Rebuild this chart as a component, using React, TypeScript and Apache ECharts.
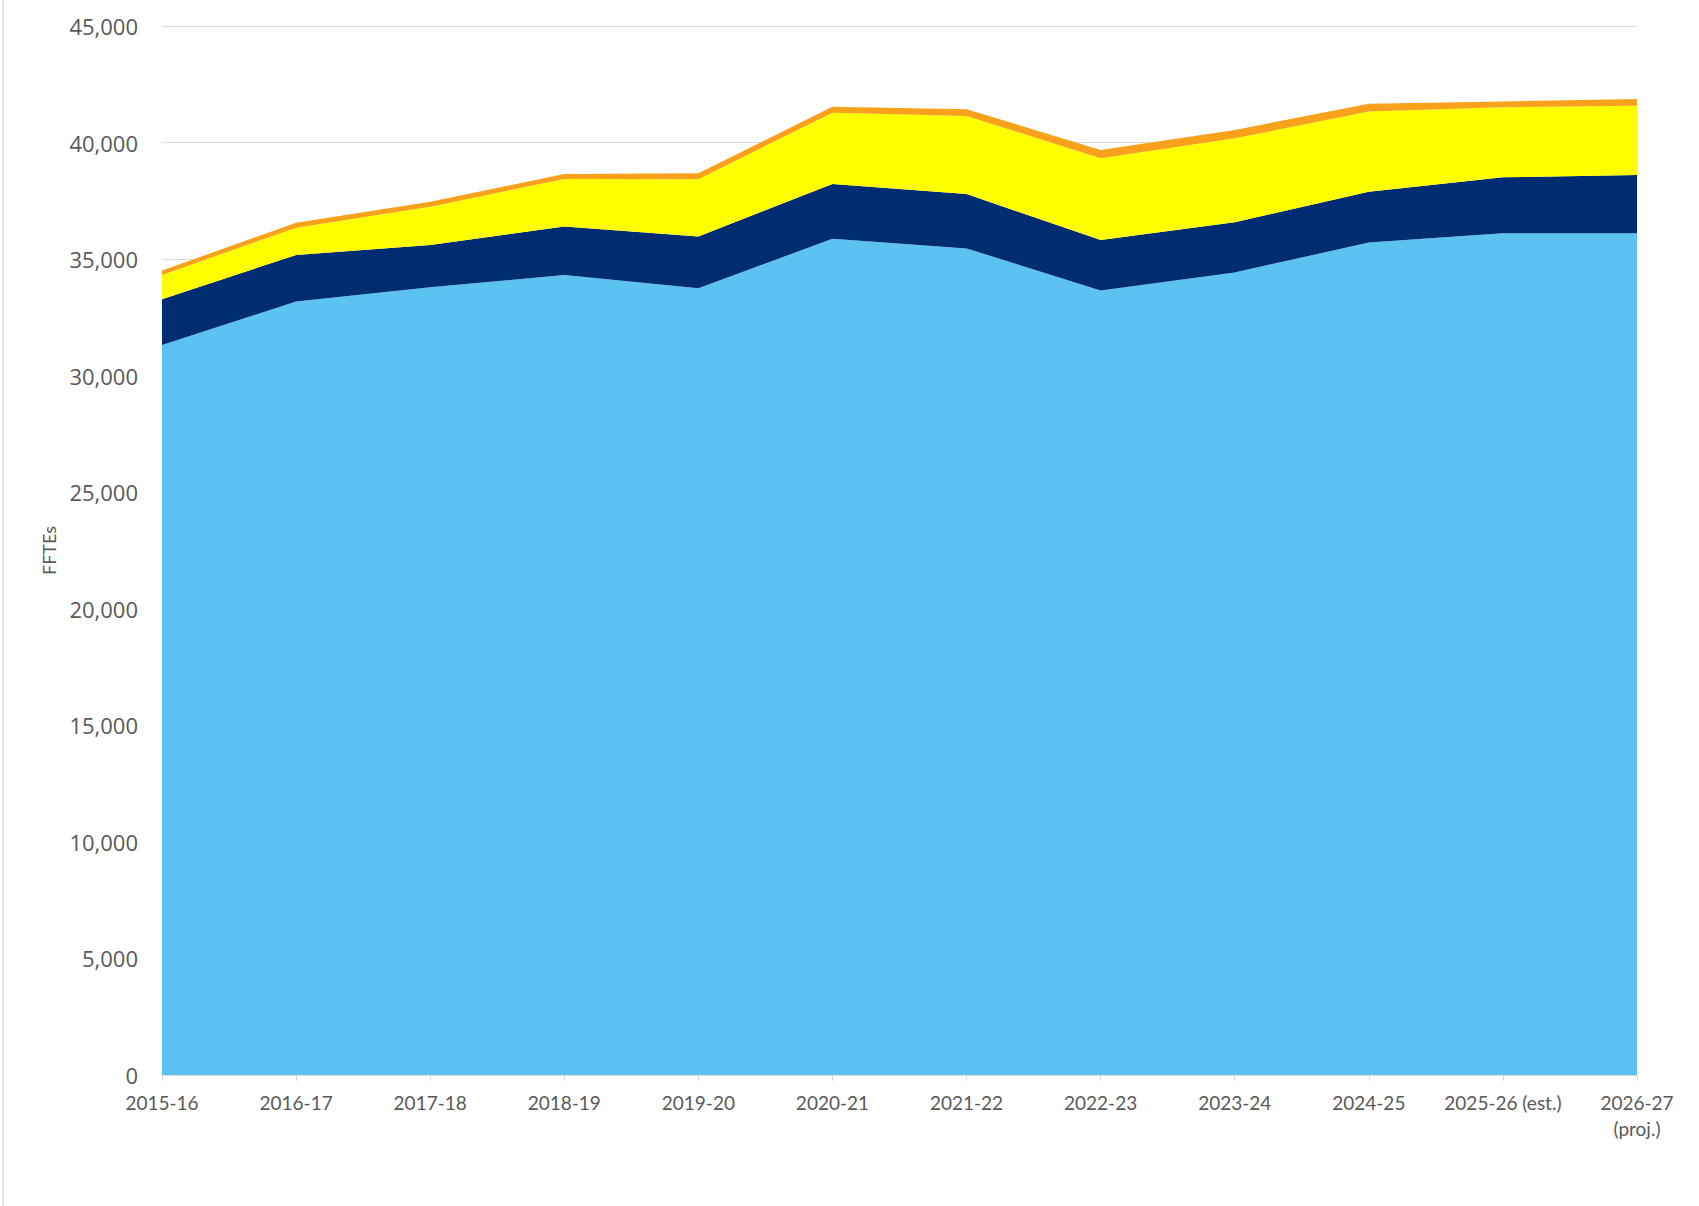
import React, { useEffect, useRef } from "react";
import * as echarts from "echarts";

const categories = [
  "2015-16",
  "2016-17",
  "2017-18",
  "2018-19",
  "2019-20",
  "2020-21",
  "2021-22",
  "2022-23",
  "2023-24",
  "2024-25",
  "2025-26 (est.)",
  "2026-27\n(proj.)",
];

// Stacked components (FFTEs), bottom to top
const seriesLightBlue = [31320, 33180, 33790, 34320, 33750, 35870, 35460, 33650, 34430, 35710, 36110, 36110];
const seriesNavy = [1960, 2000, 1820, 2080, 2220, 2350, 2330, 2170, 2150, 2180, 2400, 2500];
const seriesYellow = [1040, 1170, 1640, 2040, 2460, 3060, 3350, 3510, 3600, 3440, 3000, 2970];
const seriesOrange = [190, 210, 210, 210, 250, 260, 290, 350, 360, 330, 250, 290];

const yTicks = { min: 0, max: 45000, interval: 5000 };

export default function App() {
  const ref = useRef<HTMLDivElement>(null);

  useEffect(() => {
    if (!ref.current) return;
    const chart = echarts.init(ref.current, undefined, { renderer: "svg" });

    const mk = (name: string, data: number[], color: string) => ({
      name,
      type: "line",
      stack: "total",
      data,
      showSymbol: false,
      symbol: "none",
      lineStyle: { width: 0, opacity: 0 },
      areaStyle: { color, opacity: 1 },
      itemStyle: { color },
      emphasis: { disabled: true },
    });

    chart.setOption({
      animation: false,
      backgroundColor: "#ffffff",
      grid: {
        left: 162,
        right: 62,
        top: 26,
        bottom: 131,
        containLabel: false,
        outerBoundsMode: "none",
      },
      xAxis: {
        type: "category",
        data: categories,
        boundaryGap: false,
        axisLine: { show: true, lineStyle: { color: "#d9d9d9", width: 1 } },
        axisTick: { show: true, length: 6, lineStyle: { color: "#d9d9d9" } },
        axisLabel: {
          interval: 0,
          fontFamily: "Lato",
          fontSize: 19,
          lineHeight: 26,
          color: "#595959",
          margin: 14,
        },
        splitLine: { show: false },
        z: 10,
      },
      yAxis: {
        type: "value",
        min: yTicks.min,
        max: yTicks.max,
        interval: yTicks.interval,
        name: "FFTEs",
        nameLocation: "middle",
        nameGap: 104,
        nameTextStyle: { fontFamily: "Lato", fontSize: 18, color: "#595959" },
        axisLine: { show: false },
        axisTick: { show: false },
        axisLabel: {
          fontFamily: "Open Sans",
          fontSize: 22,
          color: "#595959",
          margin: 24,
          formatter: (v: number) => v.toLocaleString("en-US"),
        },
        splitLine: { show: true, lineStyle: { color: "#d9d9d9", width: 1 } },
      },
      graphic: [
        {
          type: "line",
          shape: { x1: 3, y1: 0, x2: 3, y2: 1206 },
          style: { stroke: "#e3e3e3", lineWidth: 2 },
          silent: true,
        },
      ],
      series: [
        mk("Series 1", seriesLightBlue, "#5BC2F2"),
        mk("Series 2", seriesNavy, "#002D72"),
        mk("Series 3", seriesYellow, "#FFFF00"),
        mk("Series 4", seriesOrange, "#F9A11B"),
      ],
    });

    return () => chart.dispose();
  }, []);

  return (
    <div
      ref={ref}
      style={{ position: "fixed", left: 0, top: 0, width: 1699, height: 1206, background: "#fff" }}
    />
  );
}
